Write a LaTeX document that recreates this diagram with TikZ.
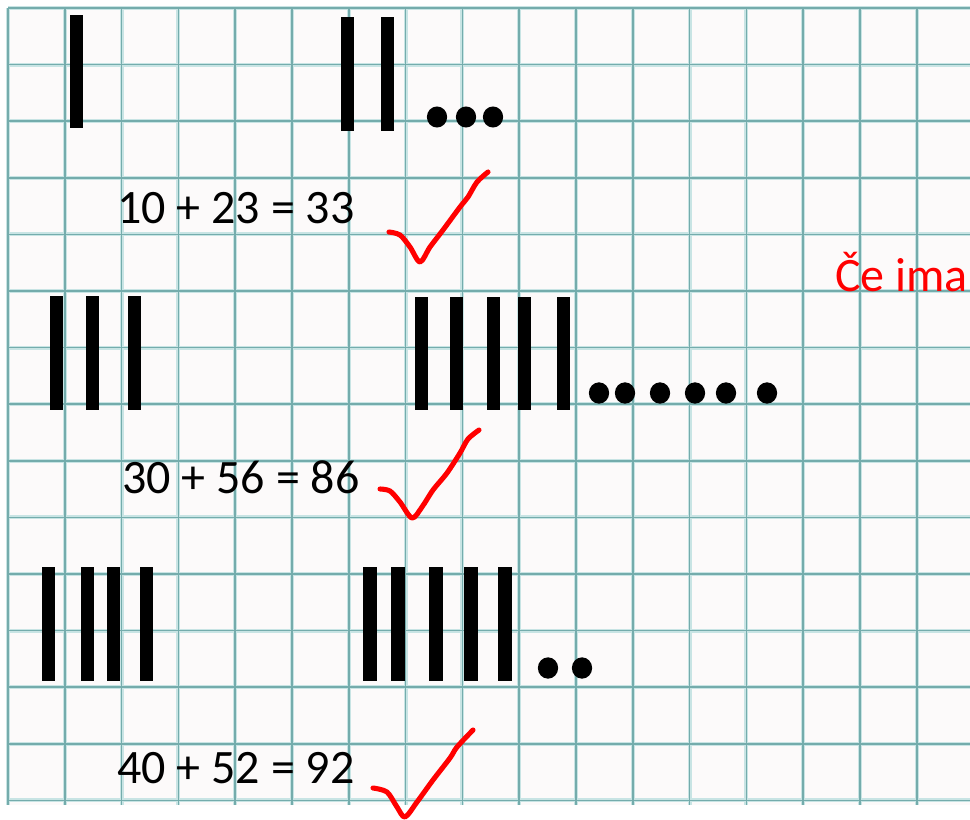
\documentclass[tikz,border=0pt]{standalone}
\usepackage{fontspec}
\setmainfont{Carlito}
\usepackage{tikz}

\definecolor{gridhalo}{RGB}{200,228,228}
\definecolor{gridink}{RGB}{116,172,172}
\definecolor{paper}{RGB}{252,250,250}

\begin{document}
\begin{tikzpicture}[x=0.75pt,y=-0.75pt,
    halo/.style={gridhalo,line width=3pt},
    gridline/.style={gridink,line width=1.2pt},
    bar/.style={fill=black},
    dot/.style={fill=black},
    tick/.style={red,line width=3.8pt,line cap=round,line join=round},
    sum/.style={anchor=base west,inner sep=0pt,font=\fontsize{36}{43}\selectfont}]
    \useasboundingbox (0,0) rectangle (970,820);
    \fill[white] (0,0) rectangle (970,820);
    \fill[paper] (8,8) rectangle (970,805);

    % squared paper
    \foreach \i in {0,...,16} \draw[halo] ({8+56.8*\i},8) -- ({8+56.8*\i},805);
    \foreach \j in {0,...,14} \draw[halo] (8,{8+56.6*\j}) -- (970,{8+56.6*\j});
    \foreach \i in {0,...,16} \draw[gridline] ({8+56.8*\i},8) -- ({8+56.8*\i},805);
    \foreach \j in {0,...,14} \draw[gridline] (8,{8+56.6*\j}) -- (970,{8+56.6*\j});

    % first row
    \fill[bar] (70,15) rectangle (83,128);
    \foreach \x in {341,381} \fill[bar] (\x,17) rectangle (\x+13,131);
    \foreach \x in {437,466,493} \fill[dot] (\x,117) ellipse (7.6pt and 7.9pt);
    \node[sum] (sumA) at (117,223) {10 + 23 = 33};
    \draw[tick] plot[smooth] coordinates {(389,232) (400,235) (410,247) (420,262)
        (430,247) (443,230) (460,207) (468,197) (477,182) (488,172)};

    % second row
    \foreach \x in {50,86,128} \fill[bar] (\x,296) rectangle (\x+13,410);
    \foreach \x in {415,450,487,518,557} \fill[bar] (\x,297) rectangle (\x+13,410);
    \foreach \x in {599,625,660,695,726,767} \fill[dot] (\x,393) ellipse (7.6pt and 8pt);
    \node[sum] (sumB) at (122,493) {30 + 56 = 86};
    \draw[tick] plot[smooth] coordinates {(380,489) (390,491) (400,502) (412,518)
        (422,507) (433,490) (447,473) (460,453) (468,439) (479,430)};

    % third row
    \foreach \x in {42,81,107,140} \fill[bar] (\x,567) rectangle (\x+13,681);
    \foreach \x in {363,391,429,464,498} \fill[bar] (\x,567) rectangle (\x+13.5,681);
    \foreach \x in {548,582} \fill[dot] (\x,668) ellipse (7.6pt and 8pt);
    \node[sum] (sumC) at (117,783) {40 + 52 = 92};
    \draw[tick] plot[smooth] coordinates {(373,788) (387,792) (397,807) (405,817)
        (417,802) (433,780) (450,758) (457,747) (473,730)};

    \node[sum,red] (note) at (835,291) {Če ima};
\end{tikzpicture}
\end{document}
